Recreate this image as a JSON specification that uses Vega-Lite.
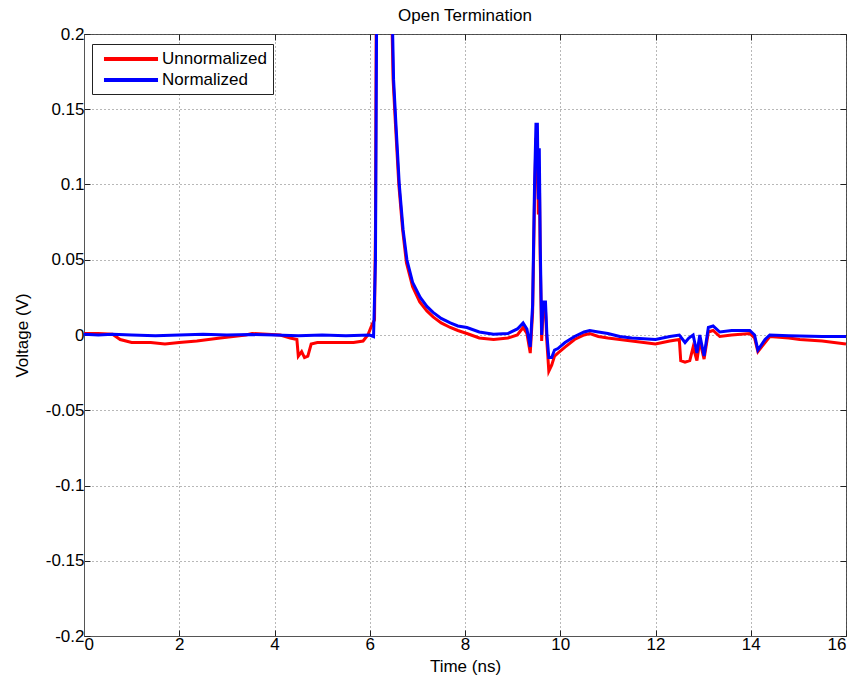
{
  "$schema": "https://vega.github.io/schema/vega-lite/v6.json",
  "width": 762,
  "height": 602,
  "autosize": {"type": "none"},
  "padding": {"left": 84, "top": 34, "right": 12, "bottom": 50},
  "background": "white",
  "title": {"text": "Open Termination", "fontSize": 17, "fontWeight": "normal", "font": "Liberation Sans", "color": "black", "offset": 0},
  "config": {
    "view": {"stroke": "#555555", "strokeWidth": 1},
    "axis": {"labelFont": "Liberation Sans", "titleFont": "Liberation Sans", "labelFontSize": 17, "titleFontSize": 17, "titleFontWeight": "normal", "labelColor": "black", "titleColor": "black", "domainColor": "#555555", "tickColor": "#222222", "gridColor": "#333333", "gridDash": [1, 3], "gridOpacity": 0.7, "tickSize": -6}
  },
  "data": {"values": [
    {"t":0,"v":0.001,"s":"Unnormalized"},{"t":0.3,"v":0.001,"s":"Unnormalized"},{"t":0.6,"v":0.0005,"s":"Unnormalized"},{"t":0.76,"v":-0.003,"s":"Unnormalized"},{"t":1.0,"v":-0.005,"s":"Unnormalized"},{"t":1.4,"v":-0.005,"s":"Unnormalized"},{"t":1.7,"v":-0.006,"s":"Unnormalized"},{"t":2.0,"v":-0.005,"s":"Unnormalized"},{"t":2.37,"v":-0.004,"s":"Unnormalized"},{"t":2.86,"v":-0.002,"s":"Unnormalized"},{"t":3.4,"v":0.0,"s":"Unnormalized"},{"t":3.53,"v":0.001,"s":"Unnormalized"},{"t":4.12,"v":0.0,"s":"Unnormalized"},{"t":4.33,"v":-0.002,"s":"Unnormalized"},{"t":4.47,"v":-0.003,"s":"Unnormalized"},{"t":4.5,"v":-0.014,"s":"Unnormalized"},{"t":4.57,"v":-0.011,"s":"Unnormalized"},{"t":4.63,"v":-0.015,"s":"Unnormalized"},{"t":4.7,"v":-0.014,"s":"Unnormalized"},{"t":4.77,"v":-0.006,"s":"Unnormalized"},{"t":4.9,"v":-0.005,"s":"Unnormalized"},{"t":5.3,"v":-0.005,"s":"Unnormalized"},{"t":5.66,"v":-0.005,"s":"Unnormalized"},{"t":5.86,"v":-0.004,"s":"Unnormalized"},{"t":5.96,"v":0.0,"s":"Unnormalized"},{"t":6.05,"v":0.007,"s":"Unnormalized"},{"t":6.1,"v":0.01,"s":"Unnormalized"},{"t":6.12,"v":0.07,"s":"Unnormalized"},{"t":6.14,"v":0.25,"s":"Unnormalized"},{"t":6.3,"v":0.5,"s":"Unnormalized"},{"t":6.44,"v":0.25,"s":"Unnormalized"},{"t":6.49,"v":0.17,"s":"Unnormalized"},{"t":6.54,"v":0.14,"s":"Unnormalized"},{"t":6.61,"v":0.1,"s":"Unnormalized"},{"t":6.69,"v":0.07,"s":"Unnormalized"},{"t":6.77,"v":0.048,"s":"Unnormalized"},{"t":6.9,"v":0.032,"s":"Unnormalized"},{"t":7.05,"v":0.022,"s":"Unnormalized"},{"t":7.2,"v":0.016,"s":"Unnormalized"},{"t":7.33,"v":0.012,"s":"Unnormalized"},{"t":7.5,"v":0.008,"s":"Unnormalized"},{"t":7.69,"v":0.005,"s":"Unnormalized"},{"t":7.85,"v":0.003,"s":"Unnormalized"},{"t":8.04,"v":0.001,"s":"Unnormalized"},{"t":8.3,"v":-0.002,"s":"Unnormalized"},{"t":8.6,"v":-0.003,"s":"Unnormalized"},{"t":8.9,"v":-0.002,"s":"Unnormalized"},{"t":9.1,"v":0.0,"s":"Unnormalized"},{"t":9.22,"v":0.005,"s":"Unnormalized"},{"t":9.3,"v":0.001,"s":"Unnormalized"},{"t":9.37,"v":-0.012,"s":"Unnormalized"},{"t":9.42,"v":0.015,"s":"Unnormalized"},{"t":9.46,"v":0.09,"s":"Unnormalized"},{"t":9.49,"v":0.13,"s":"Unnormalized"},{"t":9.52,"v":0.13,"s":"Unnormalized"},{"t":9.54,"v":0.08,"s":"Unnormalized"},{"t":9.56,"v":0.11,"s":"Unnormalized"},{"t":9.58,"v":0.05,"s":"Unnormalized"},{"t":9.61,"v":-0.004,"s":"Unnormalized"},{"t":9.64,"v":0.016,"s":"Unnormalized"},{"t":9.69,"v":0.016,"s":"Unnormalized"},{"t":9.72,"v":-0.005,"s":"Unnormalized"},{"t":9.76,"v":-0.024,"s":"Unnormalized"},{"t":9.82,"v":-0.02,"s":"Unnormalized"},{"t":9.88,"v":-0.014,"s":"Unnormalized"},{"t":9.95,"v":-0.012,"s":"Unnormalized"},{"t":10.1,"v":-0.008,"s":"Unnormalized"},{"t":10.3,"v":-0.003,"s":"Unnormalized"},{"t":10.5,"v":0.0,"s":"Unnormalized"},{"t":10.62,"v":0.001,"s":"Unnormalized"},{"t":10.8,"v":-0.001,"s":"Unnormalized"},{"t":11.0,"v":-0.002,"s":"Unnormalized"},{"t":11.25,"v":-0.003,"s":"Unnormalized"},{"t":11.5,"v":-0.004,"s":"Unnormalized"},{"t":12.0,"v":-0.006,"s":"Unnormalized"},{"t":12.3,"v":-0.004,"s":"Unnormalized"},{"t":12.5,"v":-0.003,"s":"Unnormalized"},{"t":12.53,"v":-0.017,"s":"Unnormalized"},{"t":12.62,"v":-0.018,"s":"Unnormalized"},{"t":12.72,"v":-0.017,"s":"Unnormalized"},{"t":12.79,"v":-0.008,"s":"Unnormalized"},{"t":12.87,"v":-0.017,"s":"Unnormalized"},{"t":12.93,"v":-0.004,"s":"Unnormalized"},{"t":13.02,"v":-0.016,"s":"Unnormalized"},{"t":13.11,"v":0.002,"s":"Unnormalized"},{"t":13.21,"v":0.003,"s":"Unnormalized"},{"t":13.35,"v":-0.001,"s":"Unnormalized"},{"t":13.6,"v":0.0,"s":"Unnormalized"},{"t":13.98,"v":0.001,"s":"Unnormalized"},{"t":14.08,"v":-0.002,"s":"Unnormalized"},{"t":14.15,"v":-0.011,"s":"Unnormalized"},{"t":14.3,"v":-0.005,"s":"Unnormalized"},{"t":14.4,"v":-0.001,"s":"Unnormalized"},{"t":14.8,"v":-0.002,"s":"Unnormalized"},{"t":15.03,"v":-0.003,"s":"Unnormalized"},{"t":15.5,"v":-0.004,"s":"Unnormalized"},{"t":16.0,"v":-0.006,"s":"Unnormalized"},
    {"t":0,"v":0.0005,"s":"Normalized"},{"t":0.3,"v":0.0,"s":"Normalized"},{"t":0.6,"v":0.0005,"s":"Normalized"},{"t":1.0,"v":0.0,"s":"Normalized"},{"t":1.5,"v":-0.0005,"s":"Normalized"},{"t":2.0,"v":0.0,"s":"Normalized"},{"t":2.5,"v":0.0005,"s":"Normalized"},{"t":3.0,"v":0.0,"s":"Normalized"},{"t":3.5,"v":0.0003,"s":"Normalized"},{"t":4.0,"v":0.0,"s":"Normalized"},{"t":4.5,"v":-0.0005,"s":"Normalized"},{"t":5.0,"v":0.0,"s":"Normalized"},{"t":5.5,"v":-0.0005,"s":"Normalized"},{"t":6.0,"v":0.0,"s":"Normalized"},{"t":6.08,"v":-0.001,"s":"Normalized"},{"t":6.12,"v":0.05,"s":"Normalized"},{"t":6.15,"v":0.25,"s":"Normalized"},{"t":6.3,"v":0.5,"s":"Normalized"},{"t":6.45,"v":0.25,"s":"Normalized"},{"t":6.5,"v":0.17,"s":"Normalized"},{"t":6.55,"v":0.14,"s":"Normalized"},{"t":6.62,"v":0.1,"s":"Normalized"},{"t":6.7,"v":0.07,"s":"Normalized"},{"t":6.78,"v":0.05,"s":"Normalized"},{"t":6.9,"v":0.035,"s":"Normalized"},{"t":7.06,"v":0.025,"s":"Normalized"},{"t":7.2,"v":0.019,"s":"Normalized"},{"t":7.33,"v":0.015,"s":"Normalized"},{"t":7.5,"v":0.011,"s":"Normalized"},{"t":7.69,"v":0.008,"s":"Normalized"},{"t":7.85,"v":0.006,"s":"Normalized"},{"t":8.04,"v":0.005,"s":"Normalized"},{"t":8.3,"v":0.002,"s":"Normalized"},{"t":8.6,"v":0.0005,"s":"Normalized"},{"t":8.9,"v":0.001,"s":"Normalized"},{"t":9.1,"v":0.004,"s":"Normalized"},{"t":9.22,"v":0.008,"s":"Normalized"},{"t":9.3,"v":0.004,"s":"Normalized"},{"t":9.37,"v":-0.008,"s":"Normalized"},{"t":9.42,"v":0.02,"s":"Normalized"},{"t":9.46,"v":0.1,"s":"Normalized"},{"t":9.49,"v":0.14,"s":"Normalized"},{"t":9.52,"v":0.14,"s":"Normalized"},{"t":9.54,"v":0.09,"s":"Normalized"},{"t":9.56,"v":0.124,"s":"Normalized"},{"t":9.58,"v":0.06,"s":"Normalized"},{"t":9.61,"v":0.0,"s":"Normalized"},{"t":9.64,"v":0.022,"s":"Normalized"},{"t":9.69,"v":0.022,"s":"Normalized"},{"t":9.72,"v":0.0,"s":"Normalized"},{"t":9.76,"v":-0.015,"s":"Normalized"},{"t":9.82,"v":-0.015,"s":"Normalized"},{"t":9.88,"v":-0.01,"s":"Normalized"},{"t":9.95,"v":-0.009,"s":"Normalized"},{"t":10.1,"v":-0.005,"s":"Normalized"},{"t":10.3,"v":-0.001,"s":"Normalized"},{"t":10.5,"v":0.002,"s":"Normalized"},{"t":10.62,"v":0.003,"s":"Normalized"},{"t":10.8,"v":0.002,"s":"Normalized"},{"t":11.0,"v":0.001,"s":"Normalized"},{"t":11.25,"v":-0.001,"s":"Normalized"},{"t":11.5,"v":-0.002,"s":"Normalized"},{"t":12.0,"v":-0.003,"s":"Normalized"},{"t":12.3,"v":-0.001,"s":"Normalized"},{"t":12.5,"v":0.0,"s":"Normalized"},{"t":12.62,"v":-0.005,"s":"Normalized"},{"t":12.7,"v":-0.002,"s":"Normalized"},{"t":12.79,"v":0.0,"s":"Normalized"},{"t":12.87,"v":-0.012,"s":"Normalized"},{"t":12.93,"v":0.0,"s":"Normalized"},{"t":13.02,"v":-0.014,"s":"Normalized"},{"t":13.11,"v":0.005,"s":"Normalized"},{"t":13.21,"v":0.006,"s":"Normalized"},{"t":13.35,"v":0.002,"s":"Normalized"},{"t":13.6,"v":0.003,"s":"Normalized"},{"t":13.98,"v":0.003,"s":"Normalized"},{"t":14.08,"v":0.0,"s":"Normalized"},{"t":14.15,"v":-0.01,"s":"Normalized"},{"t":14.3,"v":-0.003,"s":"Normalized"},{"t":14.4,"v":0.0,"s":"Normalized"},{"t":14.8,"v":-0.0005,"s":"Normalized"},{"t":15.03,"v":-0.0007,"s":"Normalized"},{"t":15.5,"v":-0.001,"s":"Normalized"},{"t":16.0,"v":-0.001,"s":"Normalized"}
  ]},
  "layer": [
    {
      "mark": {"type": "line", "strokeWidth": 3, "clip": true},
      "encoding": {
        "x": {"field": "t", "type": "quantitative", "scale": {"domain": [0, 16], "nice": false, "zero": false},
          "axis": {"title": "Time (ns)", "orient": "bottom", "values": [0,2,4,6,8,10,12,14,16], "titlePadding": 6, "labelPadding": 6}},
        "y": {"field": "v", "type": "quantitative", "scale": {"domain": [-0.2, 0.2], "nice": false, "zero": false},
          "axis": {"title": "Voltage (V)", "orient": "left", "values": [-0.2,-0.15,-0.1,-0.05,0,0.05,0.1,0.15,0.2], "labelExpr": "'' + datum.value", "titlePadding": 14, "labelPadding": 6}},
        "color": {"field": "s", "type": "nominal", "sort": ["Unnormalized", "Normalized"],
          "scale": {"domain": ["Unnormalized", "Normalized"], "range": ["#ff0000", "#0000ff"]},
          "legend": {"title": null, "orient": "none", "legendX": 8, "legendY": 10, "symbolType": "M-3.86,0L3.86,0", "symbolSize": 196, "symbolStrokeWidth": 4, "labelFont": "Liberation Sans", "labelFontSize": 17, "labelColor": "black", "strokeColor": "#222222", "fillColor": "white", "padding": 6, "rowPadding": 4, "labelOffset": 22, "symbolOffset": 24}}
      }
    },
    {
      "mark": {"type": "line", "opacity": 0, "clip": true},
      "encoding": {
        "x": {"field": "t", "type": "quantitative", "axis": {"orient": "top", "title": null, "labels": false, "grid": false, "domain": false, "values": [0,2,4,6,8,10,12,14,16]}},
        "y": {"field": "v", "type": "quantitative", "axis": {"orient": "right", "title": null, "labels": false, "grid": false, "domain": false, "values": [-0.2,-0.15,-0.1,-0.05,0,0.05,0.1,0.15,0.2]}}
      }
    }
  ],
  "resolve": {"axis": {"x": "independent", "y": "independent"}}
}
